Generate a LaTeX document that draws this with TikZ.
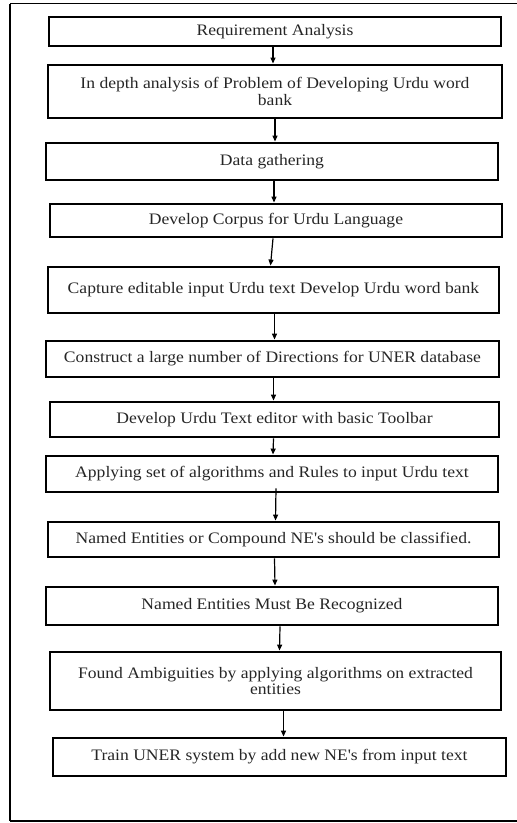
\documentclass[tikz,border=0pt]{standalone}
\usepackage{fontspec}
\setmainfont{Liberation Serif}[FakeStretch=1.1]
\usetikzlibrary{arrows.meta}
\tikzset{
  box/.style={draw, line width=2.9pt, rectangle, inner sep=0pt, align=center,
              font=\fontsize{16}{16.5}\selectfont, text=black!85},
  arr/.style={draw, line width=1.2pt, -{Triangle[length=6pt,width=5pt]}},
  frame/.style={draw, line width=1.2pt}
}
\begin{document}
\begin{tikzpicture}[x=1pt,y=-1pt]
\useasboundingbox (0,0) rectangle (517,823);
% outer frame
\coordinate (ftl) at (10,3.5);
\coordinate (fbl) at (10,821);
\coordinate (ftr) at (518,3.5);
\coordinate (fbr) at (518,821);
\draw[frame] (ftr) -- (ftl);
\draw[frame, line width=2.4pt] (ftl) -- (fbl);
\draw[frame, line width=1.8pt] (fbl) -- (fbr);
% boxes
\node[box, minimum width=452, minimum height=29] (b1) at (275,31.5) {Requirement Analysis};
\node[box, minimum width=454, minimum height=53] (b2) at (275,91.5) {In depth analysis of Problem of Developing Urdu word\\bank};
\node[box, minimum width=452, minimum height=37] (b3) at (272,161.5) {Data gathering};
\node[box, minimum width=452, minimum height=33] (b4) at (276,220.5) {Develop Corpus for Urdu Language};
\node[box, minimum width=451, minimum height=46] (b5) at (273.5,290) {Capture editable input Urdu text Develop Urdu word bank};
\node[box, minimum width=453, minimum height=36] (b6) at (272.5,359) {Construct a large number of Directions for UNER database};
\node[box, minimum width=449, minimum height=35] (b7) at (274.5,419.5) {Develop Urdu Text editor with basic Toolbar};
\node[box, minimum width=452, minimum height=36] (b8) at (272,474) {Applying set of algorithms and Rules to input Urdu text};
\node[box, minimum width=451, minimum height=35] (b9) at (273.5,539.5) {Named Entities or Compound NE\textquotesingle s should be classified.};
\node[box, minimum width=452, minimum height=38] (b10) at (272,606) {Named Entities Must Be Recognized};
\node[box, minimum width=451, minimum height=58] (b11) at (275.5,681) {Found Ambiguities by applying algorithms on extracted\\entities};
\node[box, minimum width=453, minimum height=38] (b12) at (279.5,757) {Train UNER system by add new NE\textquotesingle s from input text};
% arrows
\draw[arr] ([xshift=-2pt]b1.south) -- ([xshift=-2pt]b2.north);
\draw[arr] (b2.south) -- (b3.north -| b2.south);
\draw[arr] ([xshift=2pt]b3.south) -- ([xshift=-2pt]b4.north);
\draw[arr] ([xshift=-3pt]b4.south) -- ([xshift=-3pt]b5.north);
\draw[arr] ([xshift=1pt]b5.south) -- ([xshift=2pt]b6.north);
\draw[arr] ([xshift=1pt]b6.south) -- ([xshift=-1pt]b7.north);
\draw[arr] ([xshift=-1pt]b7.south) -- ([xshift=1pt]b8.north);
\draw[arr] ([xshift=4pt,yshift=5pt]b8.south) -- ([xshift=2pt]b9.north);
\draw[arr] ([xshift=1pt]b9.south) -- ([xshift=3pt]b10.north);
\draw[arr] ([xshift=8pt]b10.south) -- ([xshift=4pt]b11.north);
\draw[arr] ([xshift=8pt]b11.south) -- ([xshift=4pt]b12.north);
\end{tikzpicture}
\end{document}
